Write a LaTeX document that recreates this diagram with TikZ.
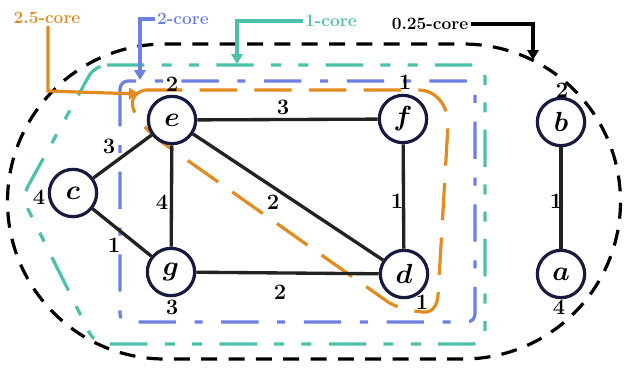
\documentclass[tikz,border=0pt]{standalone}
\usetikzlibrary{arrows.meta}
\definecolor{corange}{RGB}{226,139,30}
\definecolor{cblue}{RGB}{108,128,226}
\definecolor{cteal}{RGB}{74,193,168}
\definecolor{cnavy}{RGB}{22,26,62}
\definecolor{cedge}{RGB}{34,34,34}
\begin{document}
\begin{tikzpicture}[x=0.75pt,y=-0.75pt,
  vtx/.style={circle, draw=cnavy, line width=2.4pt, fill=white, minimum size=35.5pt, inner sep=0pt, font=\fontsize{21}{23}\selectfont\boldmath},
  edge/.style={draw=cedge, line width=2.5pt},
  wlbl/.style={font=\fontsize{16.5}{18}\selectfont\bfseries, inner sep=0pt},
  ttl/.style={font=\fontsize{13}{15}\selectfont\bfseries, inner sep=1.5pt},
  ptr/.style={line width=2.4pt, -{Triangle[length=7.5pt,width=8.5pt]}},
  kdash/.style={line width=2.4pt, dash pattern=on 12pt off 8.5pt},
  tdash/.style={draw=cteal, line width=2.4pt, dash pattern=on 28pt off 13pt on 7.5pt off 13pt on 7.5pt off 13pt},
  bdash/.style={draw=cblue, line width=2.4pt, dash pattern=on 28pt off 14pt on 6pt off 14pt},
  odash/.style={draw=corange, line width=2.4pt, dash pattern=on 28pt off 13pt},
]
\useasboundingbox (0,0) rectangle (625,369);

% regions
\draw[kdash] (165,44) -- (463,44) arc[start angle=-90, end angle=90, radius=157.5]
  -- (165,359) arc[start angle=90, end angle=270, radius=157.5];
\draw[tdash, rounded corners=9pt] (95,65) -- (485,65) -- (485,344) -- (95,344) -- (22,197) -- cycle;
\draw[bdash, rounded corners=6pt] (120,81) rectangle (475,322);
\draw[odash] (145,90) -- (418,90) .. controls (436,90) and (448,105) .. (448,125)
  -- (438,296) .. controls (437,306) and (432,313) .. (423,312)
  .. controls (410,311) and (398,308) .. (388,302)
  -- (163,143) .. controls (132,120) and (122,96) .. (145,90);

% titles and pointers
\node[ttl, text=corange] (t25) at (47,18) {2.5-core};
\node[ttl, text=cblue] (t2) at (183,19) {2-core};
\node[ttl, text=cteal] (t1) at (331,21) {1-core};
\node[ttl, text=black] (t025) at (430,24) {0.25-core};
\coordinate (o1) at (48,91);
\coordinate (o2) at (139,94);
\coordinate (b1) at (140,80);
\coordinate (c1) at (237,64);
\coordinate (k1) at (533,60);
\draw[ptr, corange] (t25.south -| o1) -- (o1) -- (o2);
\draw[ptr, cblue] (t2.west) -| (b1);
\draw[ptr, cteal] (t1.west) -| (c1);
\draw[ptr, black] (t025.east) -| (k1);

% vertices
\node[vtx] (e) at (172,120) {$e$};
\node[vtx] (f) at (403,119) {$f$};
\node[vtx] (c) at (73,193) {$c$};
\node[vtx] (g) at (171,272) {$g$};
\node[vtx] (d) at (404,274) {$d$};
\node[vtx] (b) at (561,122) {$b$};
\node[vtx] (a) at (561,274) {$a$};

% edges
\draw[edge] (e) -- (f);
\draw[edge] (c) -- (e);
\draw[edge] (c) -- (g);
\draw[edge] (e) -- (g);
\draw[edge] (e) -- (d);
\draw[edge] (g) -- (d);
\draw[edge] (f) -- (d);
\draw[edge] (b) -- (a);

% edge weights
\node[wlbl] (wef) at (283,107) {3};
\node[wlbl] (wce) at (109,146) {3};
\node[wlbl] (wcg) at (114,245) {1};
\node[wlbl] (weg) at (162,202) {4};
\node[wlbl] (wed) at (273,202) {2};
\node[wlbl] (wgd) at (280,292) {2};
\node[wlbl] (wfd) at (397,201) {1};
\node[wlbl] (wba) at (556,201) {1};

% vertex values
\node[wlbl] (ve) at (172,84) {2};
\node[wlbl] (vf) at (405,82) {1};
\node[wlbl] (vc) at (39,197) {4};
\node[wlbl] (vg) at (172,307) {3};
\node[wlbl] (vd) at (422,302) {1};
\node[wlbl] (vb) at (562,90) {2};
\node[wlbl] (va) at (559,307) {4};
\end{tikzpicture}
\end{document}
